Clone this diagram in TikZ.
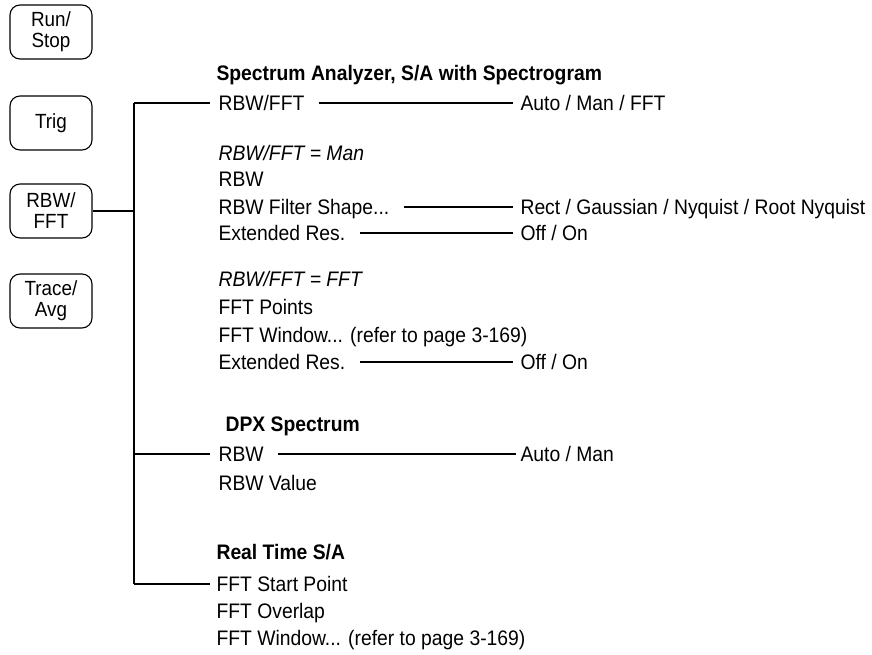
\documentclass[tikz,border=0pt]{standalone}
\usepackage{fontspec}
\setmainfont{Liberation Sans}[FakeStretch=0.92]
\usetikzlibrary{positioning,calc}

\begin{document}
\begin{tikzpicture}[
    x=1pt, y=-1pt,
    line width=1.1pt,
    keybox/.style={rectangle, draw=black, rounded corners=10pt, minimum width=82pt, minimum height=54pt, align=center, font=\fontsize{20.5}{21}\selectfont},
    item/.style={anchor=west, inner sep=0pt, text height=15pt, text depth=0pt, font=\fontsize{21}{24}\selectfont},
    title/.style={item, font=\fontsize{21}{24}\selectfont\bfseries},
    mode/.style={item, font=\fontsize{21}{24}\selectfont\itshape},
    link/.style={draw=black, shorten <=14pt, shorten >=7pt}
]
\useasboundingbox (0,0) rectangle (872,654);

% Front panel keys
\node[keybox] (runstop) at (51,32) {Run/\\Stop};
\node[keybox] (trig) at (51,123) {Trig};
\node[keybox] (rbwkey) at (51,211) {RBW/\\FFT};
\node[keybox] (traceavg) at (51,301) {Trace/\\Avg};

% Spectrum Analyzer, S/A with Spectrogram
\node[title] (satitle) at (216,73) {Spectrum Analyzer, S/A with Spectrogram};
\node[item] (sarbwfft) at (218,103) {RBW/FFT};
\node[item] (sarbwfftval) at (520,103) {Auto / Man / FFT};
\node[mode] (manmode) at (218,153) {RBW/FFT = Man};
\node[item] (manrbw) at (218,179) {RBW};
\node[item] (manfilter) at (218,207) {RBW Filter Shape...};
\node[item] (manfilterval) at (520,207) {Rect / Gaussian / Nyquist / Root Nyquist};
\node[item] (manextres) at (218,233) {Extended Res.};
\node[item] (manextresval) at (520,233) {Off / On};
\node[mode] (fftmode) at (218,279) {RBW/FFT = FFT};
\node[item] (fftpoints) at (218,307) {FFT Points};
\node[item] (fftwindow) at (218,335) {FFT Window... (refer to page 3-169)};
\node[item] (fftextres) at (218,362) {Extended Res.};
\node[item] (fftextresval) at (520,362) {Off / On};

% DPX Spectrum
\node[title] (dpxtitle) at (225,424) {DPX Spectrum};
\node[item] (dpxrbw) at (218,454) {RBW};
\node[item] (dpxrbwval) at (520,454) {Auto / Man};
\node[item] (dpxrbwvalue) at (218,483) {RBW Value};

% Real Time S/A
\node[title] (rttitle) at (216,552) {Real Time S/A};
\node[item] (rtstart) at (216,584) {FFT Start Point};
\node[item] (rtoverlap) at (216,611) {FFT Overlap};
\node[item] (rtwindow) at (216,638) {FFT Window... (refer to page 3-169)};

% Tree
\coordinate (jtop) at (134,103);
\coordinate (jmid) at (134,211);
\coordinate (jdpx) at (134,454);
\coordinate (jbot) at (134,584);
\draw (rbwkey.east) -- (jmid);
\draw (jtop) -- (jbot);
\draw[shorten >=8pt] (jtop) -- (sarbwfft.west);
\draw[shorten >=8pt] (jdpx) -- (dpxrbw.west);
\draw[shorten >=6pt] (jbot) -- (rtstart.west);

% Settings
\draw[link] (sarbwfft.east) -- (sarbwfftval.west);
\draw[link] (manfilter.east) -- (manfilterval.west);
\draw[link] (manextres.east) -- (manextresval.west);
\draw[link] (fftextres.east) -- (fftextresval.west);
\draw[link, shorten >=4pt] (dpxrbw.east) -- (dpxrbwval.west);

\end{tikzpicture}
\end{document}
